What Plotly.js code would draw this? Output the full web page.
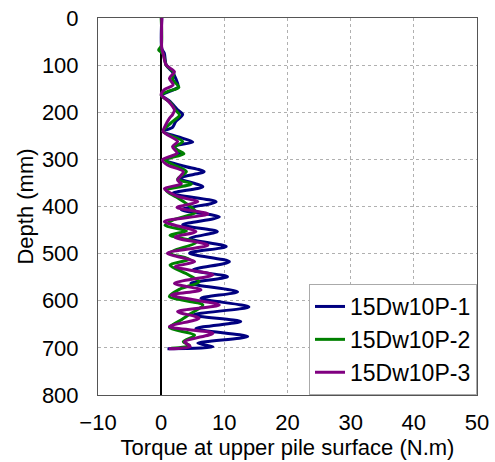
<!DOCTYPE html>
<html>
<head>
<meta charset="utf-8">
<script src="https://cdn.plot.ly/plotly-3.0.1.min.js"></script>
<style>html,body{margin:0;padding:0;background:#fff;}#chart{width:495px;height:462px;}</style>
</head>
<body>
<div id="chart"></div>
<script>
const seriesNames = ["15Dw10P-1", "15Dw10P-2", "15Dw10P-3"];

const depth1 = [0, 65, 75, 100, 115, 128, 146, 156, 164, 176, 195, 205, 220, 232, 241, 252, 263, 273, 287, 301, 314, 326, 340, 358, 372, 390, 407, 422, 439, 453, 468, 485, 499, 517, 535, 549, 563, 581, 595, 613, 630, 644, 659, 676, 690, 698, 702];
const torque1 = [0.1, 0.1, 0.5, 0.8, 1.8, 2.3, 2.7, 1.3, 0.1, 1.3, 2.6, 3.4, 2.3, 1.8, 0.3, 2.6, 5.0, 2.1, 3.0, 0.7, 3.5, 6.8, 2.9, 6.6, 1.8, 8.7, 3.2, 9.2, 3.4, 8.9, 4.5, 10.3, 4.5, 10.8, 5.0, 10.5, 4.7, 12.1, 6.3, 13.9, 5.0, 12.6, 5.5, 13.7, 5.8, 8.2, 1.0];

const depth2 = [0, 60, 68, 76, 100, 116, 130, 147, 156, 164, 180, 196, 206, 222, 241, 262, 275, 288, 301, 312, 326, 342, 352, 366, 380, 394, 412, 428, 440, 452, 461, 476, 499, 512, 524, 545, 560, 575, 591, 609, 627, 642, 657, 673, 687, 695, 701];
const torque2 = [0.0, 0.0, -0.4, 0.3, 0.8, 2.0, 1.8, 2.8, 1.0, 0.0, 1.5, 2.3, 2.9, 1.6, 0.3, 3.4, 2.0, 3.6, 0.6, 2.0, 4.0, 2.6, 4.8, 0.8, 2.4, 4.0, 5.5, 2.0, 0.6, 4.0, 1.4, 5.5, 1.3, 4.5, 1.4, 4.3, 6.0, 3.0, 1.3, 6.6, 4.7, 3.0, 1.3, 5.3, 3.5, 4.5, 1.6];

const depth3 = [0, 65, 75, 100, 114, 128, 142, 152, 163, 176, 195, 205, 213, 230, 241, 262, 273, 287, 301, 312, 326, 344, 352, 362, 378, 390, 402, 416, 432, 453, 465, 482, 499, 517, 528, 545, 563, 577, 588, 609, 623, 637, 655, 669, 687, 697, 702];
const torque3 = [0.1, 0.1, 0.3, 0.8, 2.1, 1.3, 1.9, 0.5, 0.0, 1.1, 2.1, 1.8, 1.3, 0.6, 0.3, 2.6, 1.8, 2.5, 0.2, 1.0, 3.5, 2.6, 3.2, 0.5, 2.5, 5.8, 2.5, 7.4, 0.5, 5.5, 2.2, 7.4, 1.0, 5.3, 2.2, 8.2, 2.1, 6.3, 1.6, 9.2, 2.6, 6.0, 1.3, 8.2, 3.7, 4.6, 1.2];

const xTicks = [-10, 0, 10, 20, 30, 40, 50];
const yTicks = [0, 100, 200, 300, 400, 500, 600, 700, 800];

const colors = ["#000080", "#008000", "#800080"];
const depths = [depth1, depth2, depth3];
const torques = [torque1, torque2, torque3];

const traces = seriesNames.map((n, i) => ({
  x: torques[i], y: depths[i], name: n, type: "scatter", mode: "lines",
  line: {color: colors[i], width: 3, shape: "spline", smoothing: 0.8}
}));

const FAM = "'Liberation Sans', Arial, Helvetica, sans-serif";
const font = {family: FAM, size: 22, color: "#000"};

const layout = {
  width: 495, height: 462,
  margin: {l: 98, r: 18, t: 18, b: 67},
  paper_bgcolor: "#fff", plot_bgcolor: "#fff",
  font: font,
  showlegend: true,
  legend: {x: 1, y: 0, xanchor: "right", yanchor: "bottom", bgcolor: "#fff", bordercolor: "#aaa", borderwidth: 1,
           font: {family: FAM, size: 23, color: "#000"}, tracegroupgap: 0, itemwidth: 30},
  xaxis: {
    range: [-10, 50], tickvals: xTicks, ticktext: xTicks.map(v => v < 0 ? "\u2212" + Math.abs(v) : String(v)),
    tickfont: {family: FAM, size: 22, color: "#000"},
    showgrid: true, gridcolor: "#b0b0b0", griddash: "dot", gridwidth: 1,
    zeroline: true, zerolinecolor: "#000", zerolinewidth: 1.5,
    showline: true, linecolor: "#555", linewidth: 1, mirror: true,
    ticks: "", ticklen: 0, ticklabelstandoff: 8,
    title: {text: "Torque at upper pile surface (N.m)", font: font, standoff: 0}
  },
  yaxis: {
    range: [800, 0], tickvals: yTicks,
    tickfont: {family: FAM, size: 22, color: "#000"},
    showgrid: true, gridcolor: "#b0b0b0", griddash: "dot", gridwidth: 1,
    zeroline: false,
    showline: true, linecolor: "#555", linewidth: 1, mirror: true,
    ticks: "", ticklen: 0, ticklabelstandoff: 14,
    title: {text: "Depth (mm)", font: font, standoff: 2}
  }
};

Plotly.newPlot("chart", traces, layout, {displayModeBar: false, staticPlot: true});
</script>
</body>
</html>
